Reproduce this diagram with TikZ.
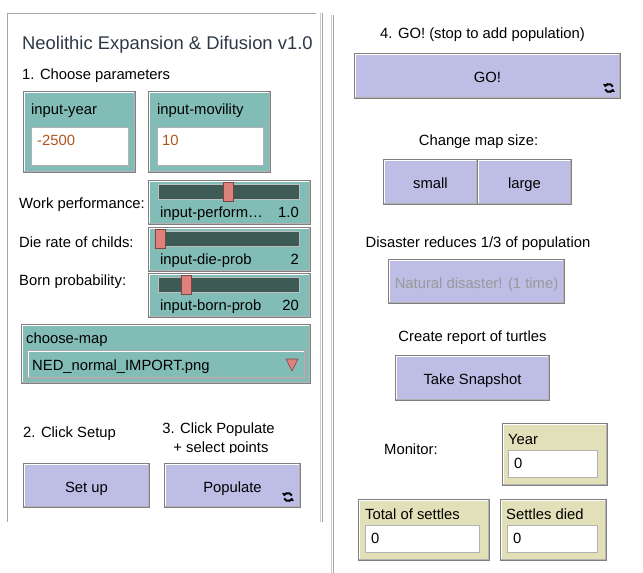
\documentclass[tikz,border=0pt]{standalone}
\usepackage{fontspec}
\setmainfont{Liberation Sans}
\usetikzlibrary{arrows.meta}
\definecolor{nlteal}{RGB}{130,188,182}
\definecolor{nlbutton}{RGB}{189,189,230}
\definecolor{nlmonitor}{RGB}{225,224,184}
\definecolor{nltrack}{RGB}{62,90,85}
\definecolor{nlknob}{RGB}{222,128,124}
\definecolor{nltitle}{RGB}{45,56,70}
\definecolor{nlvalue}{RGB}{178,84,30}
\definecolor{nlframe}{RGB}{165,165,165}

\begin{document}
\begin{tikzpicture}[x=1pt,y=-1pt,
  every node/.style={inner sep=0pt, font=\fontsize{14.8}{16}\selectfont},
  widget/.style={draw=black!50, line width=1pt, anchor=north west,
    text height=13pt, text depth=-2pt,
    path picture={
      \draw[white, line width=3pt] (path picture bounding box.south west)
        -- (path picture bounding box.north west) -- (path picture bounding box.north east);
      \draw[black!30, line width=3pt] (path picture bounding box.north east)
        -- (path picture bounding box.south east) -- (path picture bounding box.south west);}},
  button/.style={widget, fill=nlbutton},
  inputbox/.style={widget, fill=nlteal},
  monitor/.style={widget, fill=nlmonitor},
  field/.style={fill=white, draw=black!30, line width=0.6pt, anchor=north west},
  track/.style={fill=nltrack, draw=black!25, line width=0.6pt, anchor=north west},
  knob/.style={fill=nlknob, draw=nlknob!55!black, line width=0.6pt, anchor=north west},
  lbl/.style={anchor=base west},
  ctr/.style={anchor=base}]
\useasboundingbox (0,0) rectangle (643,573);

% panel frames
\draw[nlframe, line width=1pt] (316,13) -- (7,13) -- (7,522);
\draw[black!20, line width=1pt] (320.5,13) -- (320.5,522);
\draw[nlframe, line width=1pt] (322,13) -- (322,522);
\draw[black!20, line width=1pt] (331.5,15) -- (331.5,573);
\draw[nlframe, line width=1.2pt] (333.2,15) -- (333.2,573);

% left panel
\node[lbl, text=nltitle, font=\fontsize{18.4}{20}\selectfont] (title) at (22,49) {Neolithic Expansion \& Difusion v1.0};
\node[lbl] (step1) at (22,79) {1. Choose parameters};

\node[inputbox, minimum width=112pt, minimum height=81pt] (yearbox) at (23,91) {};
\node[lbl] (yearname) at (31,114) {input-year};
\node[field, minimum width=97pt, minimum height=38pt] (yearfield) at (31,127) {};
\node[lbl, text=nlvalue] (yearval) at (37,145) {-2500};

\node[inputbox, minimum width=122pt, minimum height=81pt] (movbox) at (148,91) {};
\node[lbl] (movname) at (157,114) {input-movility};
\node[field, minimum width=106pt, minimum height=38pt] (movfield) at (157,127) {};
\node[lbl, text=nlvalue] (movval) at (162,145) {10};

\foreach \i/\sy/\kx/\sname/\sval in {1/180/223/{input-perform\ldots}/1.0,
    2/227/155/input-die-prob/2, 3/273/181/input-born-prob/20} {
  \node[inputbox, minimum width=162pt, minimum height=44pt] (slider\i) at (148,\sy) {};
  \node[track, minimum width=141pt, minimum height=15pt] (track\i) at (158,\sy+4) {};
  \node[knob, minimum width=10pt, minimum height=19pt] (knob\i) at (\kx,\sy+2) {};
  \node[lbl] (sname\i) at (160,\sy+37) {\sname};
  \node[anchor=base east] (sval\i) at (299,\sy+37) {\sval};
}
\node[lbl] (perflabel) at (19,208) {Work performance:};
\node[lbl] (dielabel) at (19,247) {Die rate of childs:};
\node[lbl] (bornlabel) at (19,285) {Born probability:};

\node[inputbox, minimum width=289pt, minimum height=59pt] (mapchooser) at (21,324) {};
\node[lbl] (mapname) at (26,343) {choose-map};
\node[widget, fill=nlteal, draw=black!35, minimum width=278pt, minimum height=28pt] (mapmenu) at (27,350) {};
\node[lbl] (mapval) at (32,370) {NED\_normal\_IMPORT.png};
\filldraw[fill=nlknob, draw=nlknob!55!black, line width=0.6pt] (286,359) -- (298,359) -- (292,371) -- cycle;

\node[lbl] (step2) at (23,437) {2. Click Setup};
\node[ctr] (step3) at (218.5,433) {3. Click Populate};
\begin{scope}
  \clip (150,437) rectangle (300,452.5);
  \node[ctr] (step3b) at (221,452) {+ select points};
\end{scope}
\node[button, minimum width=126pt, minimum height=44pt] (setup) at (23,463) {Set up};
\node[button, minimum width=136pt, minimum height=44pt] (populate) at (164,463) {Populate};

% right panel
\node[ctr] (step4) at (482.5,38) {4. GO! (stop to add population)};
\node[button, minimum width=266pt, minimum height=45pt] (go) at (354,53) {GO!};
\node[ctr] (sizelabel) at (478.5,145) {Change map size:};
\node[button, minimum width=94pt, minimum height=45pt] (small) at (383,159) {small};
\node[button, minimum width=94pt, minimum height=45pt] (large) at (477,159) {large};
\node[ctr] (disasterlabel) at (478,247) {Disaster reduces 1/3 of population};
\node[button, minimum width=176pt, minimum height=44pt, text=black!40] (disaster) at (388,259) {Natural disaster! (1 time)};
\node[ctr] (reportlabel) at (472.5,341) {Create report of turtles};
\node[button, minimum width=154pt, minimum height=45pt] (snapshot) at (395,355) {Take Snapshot};

\node[lbl] (monlabel) at (384,454) {Monitor:};
\node[monitor, minimum width=105pt, minimum height=62pt] (yearmon) at (502,423) {};
\node[lbl] (yearmonname) at (508,444) {Year};
\node[field, minimum width=89pt, minimum height=27pt] (yearmonfield) at (508,450) {};
\node[lbl] (yearmonval) at (514,468) {0};

\node[monitor, minimum width=131pt, minimum height=61pt] (totalmon) at (358,499) {};
\node[lbl] (totalmonname) at (365,519) {Total of settles};
\node[field, minimum width=114pt, minimum height=27pt] (totalmonfield) at (365,525) {};
\node[lbl] (totalmonval) at (371,543) {0};

\node[monitor, minimum width=106pt, minimum height=61pt] (diedmon) at (500,499) {};
\node[lbl] (diedmonname) at (506,519) {Settles died};
\node[field, minimum width=90pt, minimum height=27pt] (diedmonfield) at (507,525) {};
\node[lbl] (diedmonval) at (513,543) {0};

% forever icons
\coordinate (popicon) at ([xshift=-13pt, yshift=11pt]populate.south east);
\coordinate (goicon) at ([xshift=-12pt, yshift=11pt]go.south east);
\foreach \c in {popicon, goicon} {
  \draw[shift={(\c)}, line width=2pt, -{Triangle[length=3pt, width=5pt]}]
    (20:4pt) arc[start angle=20, end angle=170, radius=4pt];
  \draw[shift={(\c)}, line width=2pt, -{Triangle[length=3pt, width=5pt]}]
    (200:4pt) arc[start angle=200, end angle=350, radius=4pt];
}
\end{tikzpicture}
\end{document}
